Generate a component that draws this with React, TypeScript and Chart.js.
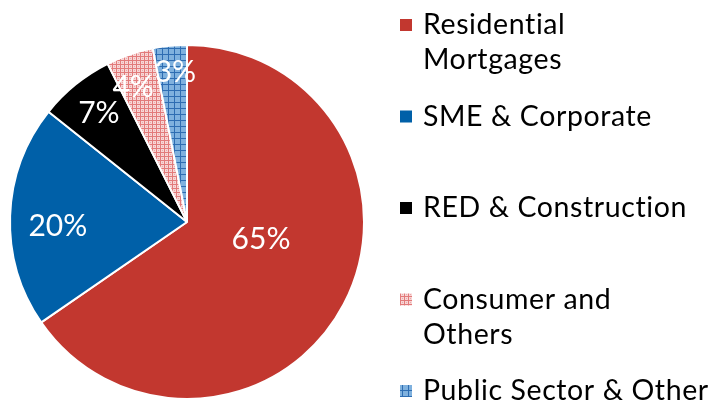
import React, { useEffect, useRef } from "react";
import { Chart, registerables } from "chart.js";
Chart.register(...registerables);

const categories: string[][] = [
  ["Residential", "Mortgages"],
  ["SME & Corporate"],
  ["RED & Construction"],
  ["Consumer and", "Others"],
  ["Public Sector & Other"],
];
const values = [65.4, 20.3, 6.9, 4.3, 3.1];
const percentLabels = ["65%", "20%", "7%", "4%", "3%"];

const FONT = "Lato, 'Noto Sans', sans-serif";

function makePattern(kind: "pink" | "blue"): CanvasPattern | string {
  const c = document.createElement("canvas");
  const s = kind === "pink" ? 4 : 6;
  c.width = s;
  c.height = s;
  const g = c.getContext("2d")!;
  if (kind === "pink") {
    g.fillStyle = "#f7d6d6";
    g.fillRect(0, 0, s, s);
    g.fillStyle = "#e27a7a";
    g.fillRect(0, 0, s, 1);
    g.fillRect(0, 0, 1, s);
    g.fillStyle = "#eea8a8";
    g.fillRect(2, 2, 1, 1);
  } else {
    g.fillStyle = "#7fb1de";
    g.fillRect(0, 0, s, s);
    g.fillStyle = "#2e6db2";
    g.fillRect(0, 0, s, 1);
    g.fillRect(0, 0, 1, s);
  }
  const p = g.createPattern(c, "repeat");
  return p || (kind === "pink" ? "#f0b8b8" : "#7fb1de");
}

const labelPlugin = {
  id: "sliceLabels",
  afterDatasetsDraw(chart: any) {
    const ctx = chart.ctx;
    const meta = chart.getDatasetMeta(0);
    const radiusFactor = [0.43, 0.73, 0.79, 0.82, 0.85];
    const angleShift = [-0.25, -0.07, 0, -0.05, 0.02];
    ctx.save();
    ctx.fillStyle = "#ffffff";
    ctx.font = `30px ${FONT}`;
    ctx.textAlign = "center";
    ctx.textBaseline = "middle";
    meta.data.forEach((arc: any, i: number) => {
      const mid = (arc.startAngle + arc.endAngle) / 2 + angleShift[i];
      const r = arc.outerRadius * radiusFactor[i];
      ctx.fillText(percentLabels[i], arc.x + Math.cos(mid) * r, arc.y + Math.sin(mid) * r);
    });
    ctx.restore();
  },
};

const legendPlugin = {
  id: "sideLegend",
  afterDraw(chart: any) {
    const ctx = chart.ctx;
    const bg = chart.data.datasets[0].backgroundColor;
    const x0 = 400;
    const y0 = 25;
    const step = 91.5;
    const lineH = 35;
    ctx.save();
    ctx.font = `28.5px ${FONT}`;
    try {
      (ctx as any).letterSpacing = "0.6px";
    } catch (e) {}
    ctx.textBaseline = "middle";
    ctx.textAlign = "left";
    categories.forEach((lines, i) => {
      const y = y0 + i * step;
      ctx.fillStyle = bg[i];
      ctx.fillRect(x0, y - 6, 12, 12);
      ctx.fillStyle = "#000000";
      lines.forEach((t, j) => ctx.fillText(t, x0 + 23, y + j * lineH));
    });
    ctx.restore();
  },
};

export default function App() {
  const ref = useRef<HTMLCanvasElement>(null);
  useEffect(() => {
    if (!ref.current) return;
    const colors = ["#c2372f", "#0060a8", "#000000", makePattern("pink"), makePattern("blue")];
    const chart = new Chart(ref.current, {
      type: "pie",
      data: {
        labels: categories.map((l) => l.join(" ")),
        datasets: [
          {
            data: values,
            backgroundColor: colors as any,
            borderColor: "#ffffff",
            borderWidth: 2,
          },
        ],
      },
      options: {
        animation: false,
        responsive: true,
        maintainAspectRatio: false,
        layout: { padding: { left: 9, top: 44, right: 347, bottom: 0 } },
        plugins: { legend: { display: false }, tooltip: { enabled: false } },
      },
      plugins: [labelPlugin, legendPlugin],
    });
    return () => chart.destroy();
  }, []);
  return (
    <div style={{ position: "absolute", left: 0, top: 0, width: 712, height: 400, background: "#fff" }}>
      <canvas ref={ref} />
    </div>
  );
}
